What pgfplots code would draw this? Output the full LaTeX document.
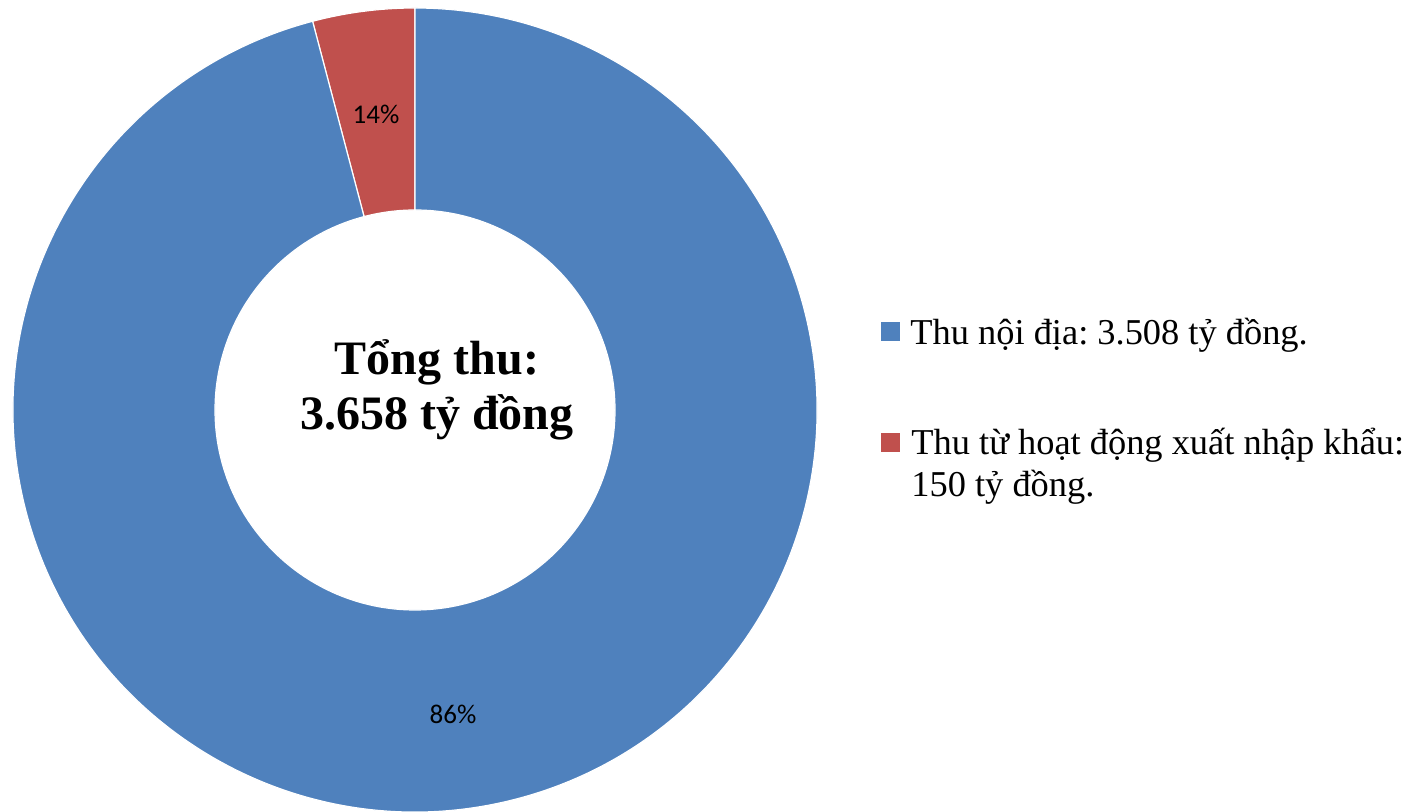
\documentclass[border=0pt]{standalone}
\usepackage{fontspec}
\setmainfont{Liberation Serif}
\newfontfamily\carlito{Carlito}
\usepackage{pgfplots}
\usepackage{pgfplotstable}
\pgfplotsset{compat=1.18}
\definecolor{cblue}{HTML}{4F81BD}
\definecolor{cred}{HTML}{C0504D}
\frenchspacing
\pgfplotstableread{
name value
noidia 3508
xnk 150
}\data
\begin{document}%
\begin{tikzpicture}
\pgfplotstablegetelem{0}{value}\of\data \let\va\pgfplotsretval
\pgfplotstablegetelem{1}{value}\of\data \let\vb\pgfplotsretval
\pgfmathsetmacro\frac{\vb/(\va+\vb)}
\pgfmathsetmacro\angb{90+360*\frac}
\pgfmathsetmacro\angbb{\angb+180}
\begin{axis}[width=708pt,height=406pt,scale only axis,
  xmin=0,xmax=1416,ymin=0,ymax=812,hide axis,clip=false]
\path (axis cs:0,0) rectangle (axis cs:1416,812);
% red slice
\fill[overlay,cred,draw=white,line width=0.6pt] (axis cs:415,402) ++(90:100pt) -- ++(90:101pt)
  arc[start angle=90,end angle=\angb,radius=201pt] -- ++(\angbb:101pt)
  arc[start angle=\angb,end angle=90,radius=100pt] -- cycle;
% blue slice
\fill[overlay,cblue,draw=white,line width=0.6pt] (axis cs:415,402) ++(\angb:100pt) -- ++(\angb:101pt)
  arc[start angle=\angb,end angle=450,radius=201pt] -- ++(270:101pt)
  arc[start angle=450,end angle=\angb,radius=100pt] -- cycle;
\node[font=\carlito\fontsize{13.5pt}{16pt}\selectfont] at (axis cs:376,698) {14\%};
\node[font=\carlito\fontsize{13.5pt}{16pt}\selectfont] at (axis cs:453,98) {86\%};
\node[anchor=base,inner sep=0pt,font=\bfseries\fontsize{24pt}{28pt}\selectfont] at (axis cs:437,437) {Tổng thu:};
\node[anchor=base,inner sep=0pt,font=\bfseries\fontsize{24pt}{28pt}\selectfont] at (axis cs:437,382) {3.658 tỷ đồng};
% legend
\fill[cblue] (axis cs:881,471) rectangle (axis cs:900,490);
\fill[cred] (axis cs:881,360) rectangle (axis cs:900,379);
\node[anchor=base west,inner sep=0pt,font=\fontsize{18.2pt}{21pt}\selectfont] at (axis cs:910,467) {Thu nội địa: 3.508 tỷ đồng.};
\node[anchor=base west,inner sep=0pt,font=\fontsize{18.2pt}{21pt}\selectfont] at (axis cs:911,357) {Thu từ hoạt động xuất nhập khẩu:};
\node[anchor=base west,inner sep=0pt,font=\fontsize{18.2pt}{21pt}\selectfont] at (axis cs:911,315) {150 tỷ đồng.};
\end{axis}
\end{tikzpicture}%
\end{document}
